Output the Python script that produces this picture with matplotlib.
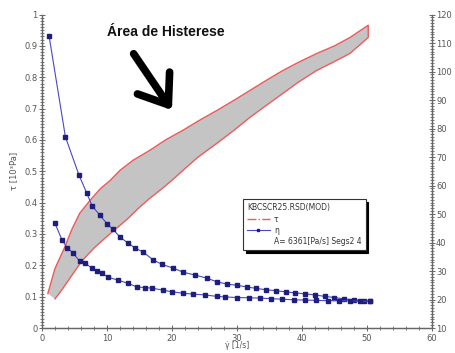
import numpy as np
import matplotlib
matplotlib.use("Agg")
import matplotlib.pyplot as plt
from matplotlib.lines import Line2D
from matplotlib.ticker import MultipleLocator

# ---- data ----
# shear stress tau [10^3 Pa], upper (higher) branch
tau_up_x = [0.9, 2, 3.5, 4.6, 5.8, 7.5, 9, 10.5, 12, 14, 16.6, 19, 21.7, 24, 26.9,
            29.5, 32, 34.5, 37.1, 39.5, 42.3, 45, 47.4, 50.2]
tau_up = [0.11, 0.19, 0.258, 0.315, 0.366, 0.41, 0.445, 0.471, 0.503, 0.535, 0.567,
          0.60, 0.631, 0.66, 0.694, 0.726, 0.758, 0.79, 0.822, 0.848, 0.876, 0.90,
          0.927, 0.966]
# shear stress tau, lower branch
tau_dn_x = [2, 3, 4, 5, 6, 7, 8, 9.5, 11, 13, 15, 16.6, 18.5, 20.2, 21.7, 24, 26.9,
            29.5, 32, 34.5, 37.1, 39.5, 42.3, 45, 47.4, 50.2]
tau_dn = [0.093, 0.12, 0.15, 0.18, 0.21, 0.233, 0.255, 0.283, 0.31, 0.345, 0.385,
          0.414, 0.445, 0.475, 0.503, 0.545, 0.589, 0.63, 0.672, 0.71, 0.749, 0.785,
          0.822, 0.85, 0.876, 0.927]
# viscosity eta (right axis), upper branch
eta_up_x = [1.1, 3.6, 5.7, 6.9, 7.7, 8.9, 10.0, 10.9, 12.0, 13.3, 14.3, 15.6, 17.1,
            18.5, 20.2, 21.7, 23.5, 25.4, 26.9, 28.5, 30.0, 31.5, 33.0, 34.5, 36.0,
            37.5, 39.0, 40.5, 42.0, 43.5, 45.0, 46.5, 48.0, 49.5, 50.5]
eta_up = [112.3, 77.1, 63.6, 57.3, 52.9, 49.6, 46.6, 44.7, 41.9, 39.7, 38.1, 36.6,
          33.9, 32.3, 31.0, 29.6, 28.6, 27.5, 26.2, 25.4, 25.0, 24.4, 23.9, 23.4,
          23.1, 22.7, 22.3, 22.0, 21.6, 21.1, 20.7, 20.2, 19.9, 19.6, 19.4]
# viscosity eta, lower branch
eta_dn_x = [2.0, 3.1, 3.9, 4.8, 5.8, 6.6, 7.7, 8.5, 9.2, 10.2, 11.7, 13.2, 14.6, 15.8,
            16.9, 18.6, 20.0, 21.7, 23.2, 25.1, 26.9, 28.2, 30.0, 31.8, 33.5, 35.3,
            37.0, 38.8, 40.5, 42.2, 44.0, 45.7, 47.4, 49.0, 50.5]
eta_dn = [46.7, 40.8, 38.1, 36.3, 33.4, 32.8, 31.0, 30.1, 29.3, 27.8, 26.8, 25.7,
          24.4, 24.2, 24.0, 23.3, 22.7, 22.2, 21.9, 21.6, 21.1, 20.9, 20.7, 20.6,
          20.5, 20.3, 20.1, 19.9, 19.8, 19.7, 19.6, 19.6, 19.5, 19.4, 19.4]

x_ticks = [0, 10, 20, 30, 40, 50, 60]
y_ticks = [0, 0.1, 0.2, 0.3, 0.4, 0.5, 0.6, 0.7, 0.8, 0.9, 1]
y_ticklabels = ["0", "0.1", "0.2", "0.3", "0.4", "0.5", "0.6", "0.7", "0.8", "0.9", "1"]
y2_ticks = [10, 20, 30, 40, 50, 60, 70, 80, 90, 100, 110, 120]

# ---- figure ----
plt.rcParams['font.family'] = ['DejaVu Sans']
fig = plt.figure(figsize=(4.55, 3.53), dpi=100)
ax = fig.add_axes([0.0923, 0.0708, 0.857, 0.888])
ax2 = ax.twinx()

tc = '#555555'
red = '#f05a5a'
navy = '#1e1e7c'
blue = '#4848c4'

# hysteresis area
poly_x = np.concatenate([tau_up_x, tau_dn_x[::-1]])
poly_y = np.concatenate([tau_up, tau_dn[::-1]])
ax.fill(poly_x, poly_y, color='#c4c4c4', edgecolor='none', zorder=1)
ax.plot(poly_x, poly_y, color=red, lw=1.0, zorder=2)

# viscosity
for xs, ys in [(eta_up_x, eta_up), (eta_dn_x, eta_dn)]:
    ax2.plot(xs, ys, color=blue, lw=0.8, marker='s', ms=3.4,
             mfc=navy, mec=navy, zorder=3)

ax.set_xlim(0, 60)
ax.set_ylim(0, 1)
ax2.set_ylim(10, 120)

ax.set_xticks(x_ticks)
ax.set_xticklabels([str(v) for v in x_ticks])
ax.set_yticks(y_ticks)
ax.set_yticklabels(y_ticklabels)
ax2.set_yticks(y2_ticks)
ax2.set_yticklabels([str(v) for v in y2_ticks])
ax.xaxis.set_minor_locator(MultipleLocator(2))
ax.yaxis.set_minor_locator(MultipleLocator(0.01))
ax2.yaxis.set_minor_locator(MultipleLocator(1))

for a in (ax, ax2):
    for s in a.spines.values():
        s.set_color('#666666')
        s.set_linewidth(0.9)
    a.spines['top'].set_visible(False)
    a.tick_params(which='major', direction='inout', length=4, width=0.7,
                  colors='#666666', labelcolor=tc, labelsize=6, pad=1)
    a.tick_params(which='minor', direction='inout', length=2.5, width=0.6,
                  colors='#666666')
ax.tick_params(axis='x', pad=2)

ax.set_xlabel("\u03b3\u0307 [1/s]", fontsize=5.5, color=tc)
ax.xaxis.set_label_coords(0.5, -0.043)
ax.set_ylabel("τ [10³Pa]", fontsize=6, color=tc, labelpad=5)

# annotation
ax.text(19.0, 0.945, "Área de Histerese", fontsize=10, fontweight='bold',
        family=['Liberation Sans', 'DejaVu Sans'], color='#111111',
        ha='center', va='center', zorder=6)
ax.annotate("", xy=(20.0, 0.695), xytext=(14.1, 0.875),
            arrowprops=dict(arrowstyle='->,head_length=1.9,head_width=1.4',
                            lw=5.5, color='black', capstyle='round',
                            joinstyle='round', shrinkA=0, shrinkB=0),
            zorder=6)

# legend
handles = [Line2D([], [], color=red, lw=1, ls='-.'),
           Line2D([], [], color=blue, lw=0.8, marker='s', ms=2, mfc=navy, mec=navy),
           Line2D([], [], color='none')]
labels = ["τ", "η", "A= 6361[Pa/s] Segs2 4"]
leg = ax2.legend(handles, labels, title="KBCSCR25.RSD(MOD)",
                 loc='upper left', bbox_to_anchor=(0.515, 0.411),
                 fontsize=5.5, title_fontsize=5.5, frameon=True, fancybox=False,
                 shadow={'color': 'black', 'alpha': 1.0},
                 borderpad=0.55, labelspacing=0.3, handlelength=3.0,
                 handletextpad=0.5, borderaxespad=0)
leg.get_frame().set_edgecolor('#333333')
leg.get_frame().set_linewidth(0.8)
leg._legend_box.align = "left"
for t in leg.get_texts():
    t.set_color('#333333')
leg.get_title().set_color('#333333')

fig.savefig("out.png", dpi=100)
